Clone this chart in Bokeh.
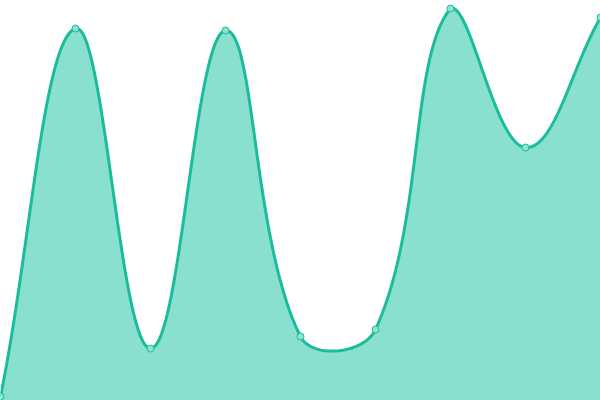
import numpy as np
from bokeh.plotting import figure
from bokeh.models import Range1d
from bokeh.embed import file_html
from bokeh.resources import INLINE

# Data (index along x, value along y)
x_idx = [0, 1, 2, 3, 4, 5, 6, 7, 8]
values = [4, 372, 52, 370, 64, 71, 392, 253, 383]

LINE = "#1abc9c"
FILL = "#8ae0cf"
POINT_FILL = "#8fe2d1"

X_STEP = 75.0  # pixel spacing of categories (used for spline shape)
TENSION = 0.4
Y_MIN, Y_MAX = 0.0, 400.0


def control_points(px, py, t):
    n = len(px)
    cps = []
    for i in range(n):
        p0 = (px[i - 1], py[i - 1]) if i > 0 else (px[i], py[i])
        p1 = (px[i], py[i])
        p2 = (px[i + 1], py[i + 1]) if i < n - 1 else (px[i], py[i])
        d01 = np.hypot(p1[0] - p0[0], p1[1] - p0[1])
        d12 = np.hypot(p2[0] - p1[0], p2[1] - p1[1])
        s01 = d01 / (d01 + d12) if (d01 + d12) else 0
        s12 = d12 / (d01 + d12) if (d01 + d12) else 0
        fa, fb = t * s01, t * s12
        prev_cp = (p1[0] - fa * (p2[0] - p0[0]), p1[1] - fa * (p2[1] - p0[1]))
        next_cp = (p1[0] + fb * (p2[0] - p0[0]), p1[1] + fb * (p2[1] - p0[1]))
        prev_cp = (prev_cp[0], min(max(prev_cp[1], Y_MIN), Y_MAX))
        next_cp = (next_cp[0], min(max(next_cp[1], Y_MIN), Y_MAX))
        cps.append((prev_cp, next_cp))
    return cps


px = [i * X_STEP for i in x_idx]
py = list(values)
cps = control_points(px, py, TENSION)

cx, cy = [], []
ts = np.linspace(0, 1, 60)
for i in range(len(px) - 1):
    a = (px[i], py[i])
    b = cps[i][1]
    c = cps[i + 1][0]
    d = (px[i + 1], py[i + 1])
    tt = ts if i == 0 else ts[1:]
    for t in tt:
        u = 1 - t
        x = u**3 * a[0] + 3 * u * u * t * b[0] + 3 * u * t * t * c[0] + t**3 * d[0]
        y = u**3 * a[1] + 3 * u * u * t * b[1] + 3 * u * t * t * c[1] + t**3 * d[1]
        cx.append(x / X_STEP)
        cy.append(y)

p = figure(width=600, height=400, output_backend="svg", toolbar_location=None,
           x_range=Range1d(0, 8), y_range=Range1d(0, 400),
           min_border=0)
p.axis.visible = False
p.grid.visible = False
p.outline_line_color = None
p.background_fill_color = "white"
p.border_fill_color = "white"

p.varea(x=cx, y1=[0] * len(cx), y2=cy, fill_color=FILL, fill_alpha=1.0)
p.line(cx, cy, line_color=LINE, line_width=3)
p.scatter(x_idx, values, size=7, fill_color=POINT_FILL, line_color=LINE, line_width=1)

open("out.html", "w").write(file_html(p, INLINE))
